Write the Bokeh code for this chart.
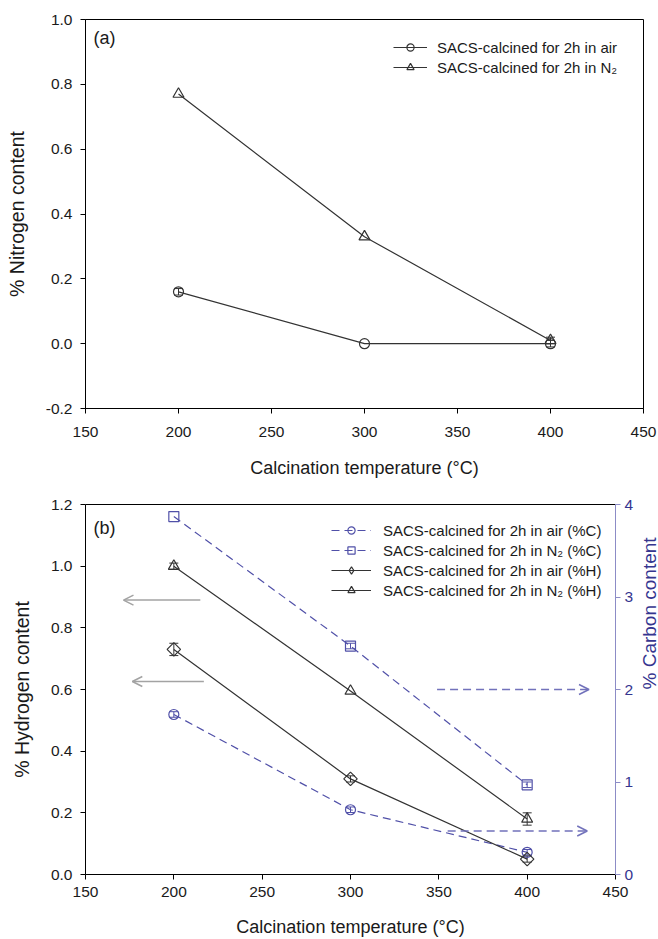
import math
from bokeh.plotting import figure
from bokeh.models import (ColumnDataSource, Range1d, LinearAxis, FixedTicker,
                          PrintfTickFormatter, Legend, LegendItem, Whisker, TeeHead,
                          Arrow, OpenHead, Label)
from bokeh.layouts import column
from bokeh.embed import file_html
from bokeh.resources import INLINE

# ---------------- data ----------------
temps = [200, 300, 400]

# panel (a): nitrogen content (%)
n_air = [0.16, 0.0, 0.0]
n_air_err = [0.01, 0.0, 0.01]
n_n2 = [0.77, 0.33, 0.01]
n_n2_err = [0.0, 0.0, 0.01]

# panel (b): hydrogen content (%) - left axis
h_air = [0.73, 0.31, 0.05]
h_air_err = [0.02, 0.01, 0.01]
h_n2 = [1.00, 0.595, 0.18]
h_n2_err = [0.01, 0.0, 0.02]

# panel (b): carbon content (%) - right axis
c_air = [1.73, 0.70, 0.24]
c_air_err = [0.03, 0.03, 0.03]
c_n2 = [3.87, 2.47, 0.97]
c_n2_err = [0.0, 0.03, 0.03]

x_ticks = [150, 200, 250, 300, 350, 400, 450]
ya_ticks = [-0.2, 0.0, 0.2, 0.4, 0.6, 0.8, 1.0]
yb_ticks = [0.0, 0.2, 0.4, 0.6, 0.8, 1.0, 1.2]
yc_ticks = [0, 1, 2, 3, 4]

legend_a = ["SACS-calcined for 2h in air", "SACS-calcined for 2h in N\u2082"]
legend_b = ["SACS-calcined for 2h in air (%C)", "SACS-calcined for 2h in N\u2082 (%C)",
            "SACS-calcined for 2h in air (%H)", "SACS-calcined for 2h in N\u2082 (%H)"]

x_label = "Calcination temperature (\u00b0C)"
ya_label = "% Nitrogen content"
yb_label = "% Hydrogen content"
yc_label = "% Carbon content"

# pointer arrows (panel b): start/end temperatures and heights
gray_arrow_y = [0.89, 0.626]
gray_arrow_x0 = [215, 217]
gray_arrow_x1 = [171.5, 176.5]
blue_arrow_y = [2.0, 0.47]
blue_arrow_x0 = [349, 355]
blue_arrow_x1 = [435, 434]

# ---------------- style ----------------
FONT = "Liberation Sans"
DARK = "#333333"
TXT = "#1a1a1a"
BLUE = "#5050a8"
BLUE_AX = "#8c8cc6"
BLUE_TXT = "#35358f"
GRAY = "#a3a3a3"


def style_axis(ax, color="black", lab_color=TXT, standoff=8, label_standoff=16,
               label_size="18px"):
    ax.axis_line_color = color
    ax.axis_line_width = 1
    ax.major_tick_line_color = color
    ax.major_tick_out = 5
    ax.major_tick_in = 0
    ax.minor_tick_line_color = None
    ax.major_label_text_font = FONT
    ax.major_label_text_font_size = "15.5px"
    ax.major_label_text_color = lab_color
    ax.major_label_standoff = standoff
    ax.axis_label_text_font = FONT
    ax.axis_label_text_font_size = label_size
    ax.axis_label_text_font_style = "normal"
    ax.axis_label_text_color = lab_color
    ax.axis_label_standoff = label_standoff


def add_err(p, xs, ys, errs, color, range_name="default"):
    sel = [i for i in range(len(xs)) if errs[i] > 0]
    src = ColumnDataSource(dict(x=[xs[i] for i in sel],
                                lo=[ys[i] - errs[i] for i in sel],
                                hi=[ys[i] + errs[i] for i in sel]))
    w = Whisker(source=src, base="x", lower="lo", upper="hi",
                line_color=color, line_width=1,
                upper_head=TeeHead(size=9, line_color=color, line_width=1),
                lower_head=TeeHead(size=9, line_color=color, line_width=1),
                y_range_name=range_name)
    p.add_layout(w)


# ================= panel (a) =================
p1 = figure(frame_width=558, frame_height=389,
            x_range=Range1d(150, 450), y_range=Range1d(-0.2, 1.0),
            output_backend="svg", toolbar_location=None,
            min_border_left=85, min_border_right=15,
            min_border_top=19, min_border_bottom=72)
p1.xgrid.visible = False
p1.ygrid.visible = False
p1.outline_line_color = "black"
p1.outline_line_width = 1
p1.background_fill_color = "white"
p1.border_fill_color = "white"

p1.xaxis.ticker = FixedTicker(ticks=x_ticks)
p1.yaxis.ticker = FixedTicker(ticks=ya_ticks)
p1.yaxis.formatter = PrintfTickFormatter(format="%.1f")
p1.xaxis.axis_label = x_label
p1.yaxis.axis_label = ya_label
style_axis(p1.xaxis[0], standoff=13, label_standoff=18)
style_axis(p1.yaxis[0], standoff=8, label_standoff=15, label_size="19.5px")

la1 = p1.line(temps, n_air, line_color=DARK, line_width=1.2)
sa1 = p1.scatter(temps, n_air, marker="circle", size=10, fill_color=None,
                 line_color=DARK, line_width=1.2)
la2 = p1.line(temps, n_n2, line_color=DARK, line_width=1.2)
sa2 = p1.scatter(temps, n_n2, marker="triangle", size=11, fill_color=None,
                 line_color=DARK, line_width=1.2)
add_err(p1, temps, n_air, n_air_err, DARK)
add_err(p1, temps, n_n2, n_n2_err, DARK)

leg1 = Legend(items=[LegendItem(label=legend_a[0], renderers=[la1, sa1]),
                     LegendItem(label=legend_a[1], renderers=[la2, sa2])],
              location=(308, 332), padding=0, margin=0,
              border_line_color=None, background_fill_alpha=0,
              label_text_font=FONT, label_text_font_size="15px",
              label_text_color=TXT,
              glyph_width=34, glyph_height=18, label_height=18,
              spacing=2, label_standoff=10)
p1.add_layout(leg1)

p1.add_layout(Label(x=154.3, y=0.9415, text="(a)", text_font=FONT,
                    text_font_size="18px", text_baseline="middle",
                    text_color=TXT))

# ================= panel (b) =================
p2 = figure(frame_width=530, frame_height=370,
            x_range=Range1d(150, 450), y_range=Range1d(0.0, 1.2),
            output_backend="svg", toolbar_location=None,
            min_border_left=85, min_border_right=43,
            min_border_top=24, min_border_bottom=64)
p2.xgrid.visible = False
p2.ygrid.visible = False
p2.outline_line_color = None
p2.background_fill_color = "white"
p2.border_fill_color = "white"
p2.extra_y_ranges = {"c": Range1d(0, 4)}

p2.xaxis.ticker = FixedTicker(ticks=x_ticks)
p2.yaxis.ticker = FixedTicker(ticks=yb_ticks)
p2.yaxis.formatter = PrintfTickFormatter(format="%.1f")
p2.xaxis.axis_label = x_label
p2.yaxis.axis_label = yb_label
style_axis(p2.xaxis[0], standoff=7, label_standoff=17)
style_axis(p2.yaxis[0], standoff=8, label_standoff=15, label_size="19.5px")

rax = LinearAxis(y_range_name="c", ticker=FixedTicker(ticks=yc_ticks),
                 formatter=PrintfTickFormatter(format="%d"))
style_axis(rax, color=BLUE_AX, lab_color=BLUE_TXT, standoff=4,
           label_standoff=13, label_size="19px")
rax.axis_label = yc_label
if "axis_label_orientation" in rax.properties():
    rax.axis_label_orientation = math.pi / 2
p2.add_layout(rax, "right")

top = LinearAxis(ticker=FixedTicker(ticks=[]))
top.axis_line_color = "black"
top.major_tick_line_color = None
top.minor_tick_line_color = None
top.major_label_text_font_size = "0px"
p2.add_layout(top, "above")

lc1 = p2.line(temps, c_air, line_color=BLUE, line_width=1.2, line_dash="8 5",
              y_range_name="c")
sc1 = p2.scatter(temps, c_air, marker="circle", size=10, fill_color=None,
                 line_color=BLUE, line_width=1.2, y_range_name="c")
lc2 = p2.line(temps, c_n2, line_color=BLUE, line_width=1.2, line_dash="8 5",
              y_range_name="c")
sc2 = p2.scatter(temps, c_n2, marker="square", size=10, fill_color=None,
                 line_color=BLUE, line_width=1.2, y_range_name="c")
lh1 = p2.line(temps, h_air, line_color=DARK, line_width=1.2)
sh1 = p2.scatter(temps, h_air, marker="square", angle=math.pi / 4, size=9.5,
                 fill_color=None, line_color=DARK, line_width=1.2)
# legend-only glyph for the diamond symbol (no visible point)
sh1_leg = p2.scatter([float("nan")], [float("nan")], marker="diamond", size=15,
                     fill_color=None, line_color=DARK, line_width=1.2)
lh2 = p2.line(temps, h_n2, line_color=DARK, line_width=1.2)
sh2 = p2.scatter(temps, h_n2, marker="triangle", size=11, fill_color=None,
                 line_color=DARK, line_width=1.2)
add_err(p2, temps, c_air, c_air_err, BLUE, "c")
add_err(p2, temps, c_n2, c_n2_err, BLUE, "c")
add_err(p2, temps, h_air, h_air_err, DARK)
add_err(p2, temps, h_n2, h_n2_err, DARK)

for i in range(len(gray_arrow_y)):
    p2.add_layout(Arrow(x_start=gray_arrow_x0[i], y_start=gray_arrow_y[i],
                        x_end=gray_arrow_x1[i], y_end=gray_arrow_y[i],
                        line_color=GRAY, line_width=1.5,
                        end=OpenHead(size=10, line_color=GRAY, line_width=1.5)))
for i in range(len(blue_arrow_y)):
    p2.add_layout(Arrow(x_start=blue_arrow_x0[i], y_start=blue_arrow_y[i],
                        x_end=blue_arrow_x1[i], y_end=blue_arrow_y[i],
                        line_color="#7272bb", line_width=1.5, line_dash="8 5",
                        end=OpenHead(size=10, line_color="#7272bb", line_width=1.5),
                        y_range_name="c"))

leg2 = Legend(items=[LegendItem(label=legend_b[0], renderers=[lc1, sc1]),
                     LegendItem(label=legend_b[1], renderers=[lc2, sc2]),
                     LegendItem(label=legend_b[2], renderers=[lh1, sh1_leg]),
                     LegendItem(label=legend_b[3], renderers=[lh2, sh2])],
              location=(246, 275), padding=0, margin=0,
              border_line_color=None, background_fill_alpha=0,
              label_text_font=FONT, label_text_font_size="15px",
              label_text_color=TXT,
              glyph_width=40, glyph_height=18, label_height=18,
              spacing=2, label_standoff=12)
p2.add_layout(leg2)

p2.add_layout(Label(x=154.5, y=1.125, text="(b)", text_font=FONT,
                    text_font_size="18px", text_baseline="middle",
                    text_color=TXT))

layout = column(p1, p2)
open("out.html", "w").write(file_html(layout, INLINE))
